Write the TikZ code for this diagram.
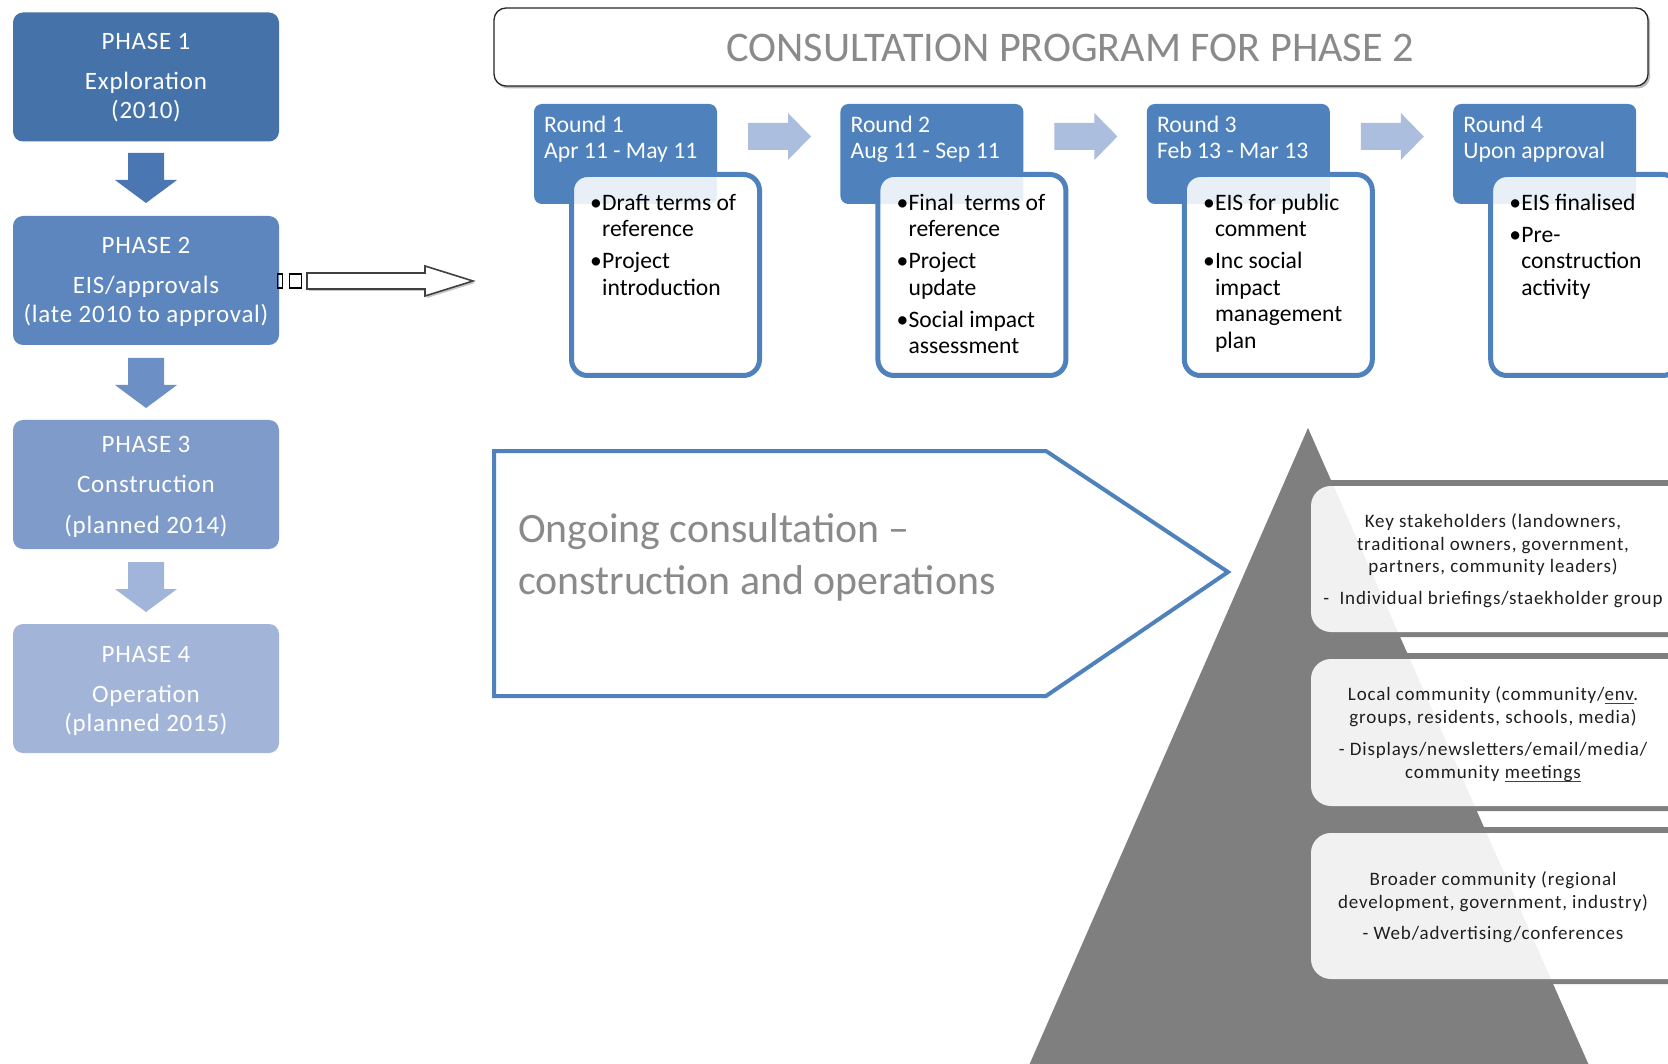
\documentclass[tikz,border=0pt]{standalone}
\usepackage{fontspec}
\setmainfont{Carlito}
\newfontfamily\phasefont[LetterSpace=3]{Carlito}
\newfontfamily\stakefont[LetterSpace=4.5]{Carlito}
\definecolor{phaseA}{RGB}{70,114,170}
\definecolor{phaseB}{RGB}{93,133,190}
\definecolor{phaseC}{RGB}{126,155,201}
\definecolor{phaseD}{RGB}{162,181,216}
\definecolor{arrA}{RGB}{74,118,178}
\definecolor{arrB}{RGB}{108,143,198}
\definecolor{arrC}{RGB}{161,181,218}
\definecolor{rblue}{RGB}{79,129,189}
\definecolor{lblue}{RGB}{172,190,222}
\definecolor{pgray}{RGB}{127,127,127}
\definecolor{tgray}{RGB}{138,138,138}
\newcommand\bbul{\makebox[12pt][l]{•}}
\newcommand\bind{\hspace*{12pt}}
\newcommand\squig[1]{\setbox0\hbox{#1}\rlap{\textcolor{red!85!black}{\rule[-3.5pt]{\wd0}{0.8pt}}}#1}
\begin{document}
\begin{tikzpicture}[x=1pt,y=-1pt,
  phasebox/.style={rounded corners=10pt, inner sep=0pt, minimum width=266pt, minimum height=129pt, draw=none},
  ptext/.style={anchor=north, align=center, inner sep=0pt, text=white, font=\phasefont\fontsize{25}{29.5}\selectfont},
  hdr/.style={fill=rblue, rounded corners=8pt, inner sep=0pt, minimum width=183pt, minimum height=100pt},
  cbox/.style={draw=rblue, line width=5pt, fill=white, fill opacity=0.88, rounded corners=16pt, inner sep=0pt, minimum width=188pt, minimum height=201pt},
  htext/.style={anchor=north west, align=left, inner sep=0pt, text=white, font=\fontsize{23.7}{26}\selectfont},
  ctext/.style={anchor=north west, align=left, inner sep=0pt, text=black, font=\fontsize{23.6}{26.6}\selectfont},
  stext/.style={anchor=north, align=center, inner sep=0pt, text=black!88, font=\stakefont\fontsize{19}{22.8}\selectfont},
]
\useasboundingbox (0,0) rectangle (1668,1064);
\fill[white] (0,0) rectangle (1668,1064);

% ---------- left phase column ----------
\node[phasebox, fill=phaseA] (p1) at (146,77) {};
\node[phasebox, fill=phaseB] (p2) at (146,280.5) {};
\node[phasebox, fill=phaseC] (p3) at (146,484.5) {};
\node[phasebox, fill=phaseD] (p4) at (146,688.5) {};

\node[ptext] (p1t) at (146,29) {\rule{0pt}{20pt}PHASE 1\\[10.5pt]Exploration\\(2010)};
\node[ptext] (p2t) at (146,233) {\rule{0pt}{20pt}PHASE 2\\[10.5pt]EIS/approvals\\(late 2010 to approval)};
\node[ptext] (p3t) at (146,432) {\rule{0pt}{20pt}PHASE 3\\[11pt]Construction\\[11pt](planned 2014)};
\node[ptext] (p4t) at (146,642) {\rule{0pt}{20pt}PHASE 4\\[10.5pt]Operation\\(planned 2015)};

% down block arrows between phases
\fill[arrA] (128,153) -- (164,153) -- (164,180) -- (177,180) -- (146,203) -- (115,180) -- (128,180) -- cycle;
\fill[arrB] (128,358) -- (164,358) -- (164,385) -- (177,385) -- (146,408) -- (115,385) -- (128,385) -- cycle;
\fill[arrC] (128,562) -- (164,562) -- (164,589) -- (177,589) -- (146,612) -- (115,589) -- (128,589) -- cycle;

% small boxes and hollow arrow from phase 2
\draw[black, line width=1.4pt] (277.5,274) rectangle (282.5,288);
\draw[black, line width=1.4pt] (289.5,274) rectangle (301.5,288);
\fill[gray!45] (309,275) -- (427,275) -- (427,268) -- (475,283) -- (427,298) -- (427,291) -- (309,291) -- cycle;
\draw[black!75, line width=1.6pt, fill=white, line join=miter] (307,273) -- (425,273) -- (425,266) -- (473,281) -- (425,296) -- (425,289) -- (307,289) -- cycle;

% ---------- title ----------
\fill[gray!55, rounded corners=12pt] (496,10) rectangle (1650,88.5);
\draw[black!85, line width=1.3pt, fill=white, rounded corners=12pt] (494,8) rectangle (1648,86);
\node[inner sep=0pt, text=tgray, font=\fontsize{42.2}{48}\selectfont] (title) at (1070,48) {CONSULTATION PROGRAM FOR PHASE 2};

% ---------- rounds ----------
\node[hdr] (h1) at (625.5,154) {};
\node[hdr] (h2) at (931.9,154) {};
\node[hdr] (h3) at (1238.3,154) {};
\node[hdr] (h4) at (1544.7,154) {};

\node[cbox] (c1) at (665.5,275) {};
\node[cbox] (c2) at (971.9,275) {};
\node[cbox] (c3) at (1278.3,275) {};
\node[cbox] (c4) at (1584.7,275) {};

\node[htext] (h1t) at (544,113) {\rule{0pt}{19pt}Round 1\\Apr 11 - May 11};
\node[htext] (h2t) at (850.4,113) {\rule{0pt}{19pt}Round 2\\Aug 11 - Sep 11};
\node[htext] (h3t) at (1156.8,113) {\rule{0pt}{19pt}Round 3\\Feb 13 - Mar 13};
\node[htext] (h4t) at (1463.2,113) {\rule{0pt}{19pt}Round 4\\Upon approval};

\node[ctext] (c1t) at (590,191) {\rule{0pt}{19pt}\bbul Draft terms of\\\bind reference\\[5.3pt]\bbul Project\\\bind introduction};
\node[ctext] (c2t) at (896.4,191) {\rule{0pt}{19pt}\bbul Final\ \ terms of\\\bind reference\\[5.3pt]\bbul Project\\\bind update\\[5.3pt]\bbul Social impact\\\bind assessment};
\node[ctext] (c3t) at (1202.8,191) {\rule{0pt}{19pt}\bbul EIS for public\\\bind comment\\[5.3pt]\bbul Inc social\\\bind impact\\\bind management\\\bind plan};
\node[ctext] (c4t) at (1509.2,191) {\rule{0pt}{19pt}\bbul EIS finalised\\[5.3pt]\bbul Pre-\\\bind construction\\\bind activity};

% arrows between rounds
\foreach \dx in {0,306.4,612.8}{
  \fill[lblue] ({748+\dx},123) -- ({788+\dx},123) -- ({788+\dx},113) -- ({811+\dx},136.5) -- ({788+\dx},160) -- ({788+\dx},150) -- ({748+\dx},150) -- cycle;
}

% ---------- ongoing consultation pentagon ----------
\draw[rblue, line width=4pt, line join=miter] (494,451) -- (1046,451) -- (1228,572) -- (1046,696) -- (494,696) -- cycle;
\node[anchor=north west, align=left, inner sep=0pt, text=tgray, font=\fontsize{41.8}{52}\selectfont] (ong) at (518,510) {\rule{0pt}{32pt}Ongoing consultation --\\construction and operations};

% ---------- pyramid ----------
\fill[pgray] (1308,428) -- (1591,1070) -- (1027,1070) -- cycle;

\fill[pgray, rounded corners=20pt] (1300,480) rectangle (1700,637);
\fill[pgray, rounded corners=20pt] (1300,653) rectangle (1700,811);
\fill[pgray, rounded corners=20pt] (1300,827) rectangle (1700,984);
\foreach \ya/\yb in {486/632, 659/806, 833/979}{
  \fill[white, rounded corners=20pt] (1311,\ya) rectangle (1700,\yb);
  \begin{scope}
    \clip[rounded corners=20pt] (1311,\ya) rectangle (1700,\yb);
    \fill[pgray, opacity=0.1] (1308,428) -- (1591,1070) -- (1027,1070) -- cycle;
  \end{scope}
}

\node[stext] (s1) at (1493,510) {\rule{0pt}{17pt}Key stakeholders (landowners,\\traditional owners, government,\\partners, community leaders)\\[9pt]-\ \ Individual briefings/staekholder group};
\node[stext] (s2) at (1493,683) {\rule{0pt}{17pt}Local community (community/\squig{env}.\\groups, residents, schools, media)\\[10pt]- Displays/newsletters/email/media/\\community \squig{meetings}};
\node[stext] (s3) at (1493,868) {\rule{0pt}{17pt}Broader community (regional\\development, government, industry)\\[8.5pt]- Web/advertising/conferences};
\end{tikzpicture}
\end{document}
